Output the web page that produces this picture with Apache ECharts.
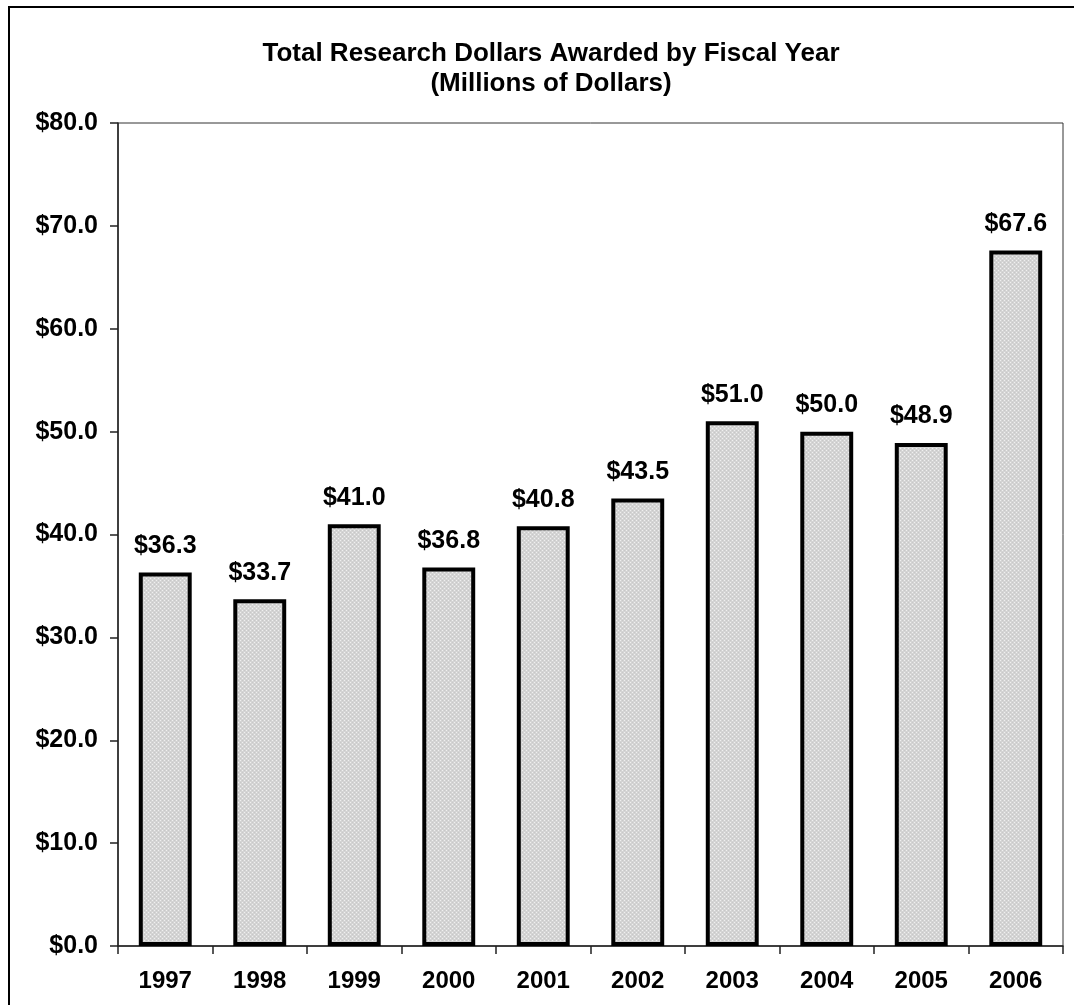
<!DOCTYPE html>
<html>
<head>
<meta charset="utf-8">
<script src="https://cdn.jsdelivr.net/npm/echarts@6/dist/echarts.min.js"></script>
<style>
  html, body { margin: 0; padding: 0; background: #fff; }
  #bar { width: 1074px; height: 1005px; }
</style>
</head>
<body>
<div id="bar"></div>
<script>
const years = ['1997', '1998', '1999', '2000', '2001', '2002', '2003', '2004', '2005', '2006']
const dollars = [36.3, 33.7, 41.0, 36.8, 40.8, 43.5, 51.0, 50.0, 48.9, 67.6]
const titleLines = ['Total Research Dollars Awarded by Fiscal Year', '(Millions of Dollars)']

// dotted grey fill like the old spreadsheet pattern
function makePattern() {
  const c = document.createElement('canvas')
  c.width = 4
  c.height = 4
  const ctx = c.getContext('2d')
  ctx.fillStyle = '#d4d4d4'
  ctx.fillRect(0, 0, 4, 4)
  ctx.fillStyle = '#f0f0f0'
  ctx.fillRect(0, 0, 1, 1)
  ctx.fillRect(2, 2, 1, 1)
  ctx.fillStyle = '#c8c8c8'
  ctx.fillRect(2, 0, 1, 1)
  ctx.fillRect(0, 2, 1, 1)
  return c
}

const font = 'Liberation Sans, Arial, sans-serif'
const chart = echarts.init(document.getElementById('bar'))
chart.setOption({
  animation: false,
  title: {
    text: titleLines.join('\n'),
    left: 546,
    textAlign: 'center',
    top: 34,
    textStyle: {
      fontFamily: font,
      fontSize: 26,
      fontWeight: 'bold',
      color: '#000',
      lineHeight: 30
    }
  },
  graphic: [
    {
      type: 'rect',
      shape: { x: 9, y: 7, width: 1100, height: 1100 },
      style: { fill: 'none', stroke: '#000', lineWidth: 2 },
      silent: true
    }
  ],
  grid: {
    left: 118,
    right: 11,
    top: 123,
    bottom: 59,
    show: true,
    borderColor: '#333',
    borderWidth: 1
  },
  xAxis: {
    type: 'category',
    data: years,
    axisLine: { lineStyle: { color: '#222', width: 1.5 } },
    axisTick: { show: true, length: 8, lineStyle: { color: '#222', width: 1.5 } },
    axisLabel: {
      fontFamily: font,
      fontSize: 24,
      fontWeight: 'bold',
      color: '#000',
      margin: 23
    }
  },
  yAxis: {
    type: 'value',
    min: 0,
    max: 80,
    interval: 10,
    splitLine: { show: false },
    axisLine: { show: true, lineStyle: { color: '#222', width: 1.5 } },
    axisTick: { show: true, length: 8, lineStyle: { color: '#222', width: 1.5 } },
    axisLabel: {
      fontFamily: font,
      fontSize: 25,
      fontWeight: 'bold',
      color: '#000',
      margin: 20,
      formatter: v => '$' + v.toFixed(1)
    }
  },
  series: [
    {
      type: 'bar',
      data: dollars,
      barCategoryGap: '44%',
      itemStyle: {
        color: { image: makePattern(), repeat: 'repeat' },
        borderColor: '#000',
        borderWidth: 4
      },
      label: {
        show: true,
        position: 'top',
        distance: 14,
        fontFamily: font,
        fontSize: 25,
        fontWeight: 'bold',
        color: '#000',
        formatter: p => '$' + p.value.toFixed(1)
      }
    }
  ]
})
</script>
</body>
</html>
